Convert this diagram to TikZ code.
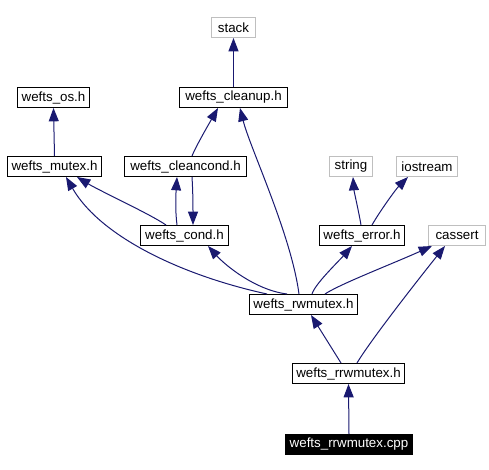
\documentclass[tikz,border=0pt]{standalone}
\usepackage{fontspec}
\setmainfont{Liberation Sans}
\usetikzlibrary{arrows.meta}
\usetikzlibrary{calc}
\definecolor{incnavy}{RGB}{25,25,112}
\definecolor{sysgray}{RGB}{191,191,191}
\tikzset{
  hfile/.style={draw=black, line width=0.75pt, anchor=north west, inner sep=0pt, minimum height=15pt, font=\fontsize{10}{12}\selectfont},
  sysfile/.style={hfile, draw=sysgray},
  srcfile/.style={hfile, fill=black, text=white},
  incl/.style={draw=incnavy, line width=0.75pt, -{Triangle[length=10pt,width=7.5pt]}}
}
\begin{document}
\begin{tikzpicture}[x=0.75pt,y=0.75pt,yscale=-1,xscale=1]
\useasboundingbox (0,0) rectangle (489,470);

% Node: system headers
\node[sysfile, minimum width=33pt] (stack) at (211,17) {stack};
\node[sysfile, minimum width=32.25pt] (string) at (329,156) {string};
\node[sysfile, minimum width=45.75pt] (iostream) at (396,156) {iostream};
\node[sysfile, minimum width=42.75pt] (cassert) at (428,225) {cassert};
% Node: project headers
\node[hfile, minimum width=81pt] (cleanup) at (179,87) {wefts\_cleanup.h};
\node[hfile, minimum width=54pt] (os) at (17,87) {wefts\_os.h};
\node[hfile, minimum width=70.5pt] (mutex) at (7,156) {wefts\_mutex.h};
\node[hfile, minimum width=91.5pt] (cleancond) at (124,156) {wefts\_cleancond.h};
\node[hfile, minimum width=66pt] (cond) at (140,225) {wefts\_cond.h};
\node[hfile, minimum width=63.75pt] (error) at (319,225) {wefts\_error.h};
\node[hfile, minimum width=81pt] (rwmutex) at (249,294) {wefts\_rwmutex.h};
\node[hfile, minimum width=84pt] (rrwmutex) at (292,363) {wefts\_rrwmutex.h};
% Node: source file
\node[srcfile, minimum width=95.25pt] (cpp) at (285,434) {wefts\_rrwmutex.cpp};

% Edges
\draw[incl] (cleanup.north) -- (stack.south);
\draw[incl] (mutex.north) -- (os.south);
\draw[incl] ($(cleancond.north west)+(68,0)$) .. controls +(4,-10) and +(-8,14) .. ($(cleanup.south west)+(39,0)$);
\draw[incl] ($(rwmutex.north west)+(50,0)$) .. controls +(-8,-60) and +(10,40) .. ($(cleanup.south west)+(61,0)$);
\draw[incl] ($(cond.north west)+(26,0)$) .. controls +(-16,-11) and +(23,14) .. ($(mutex.south west)+(70,0)$);
\draw[incl] ($(rwmutex.north west)+(18,0)$) .. controls +(-87,-19) and +(34,59) .. ($(mutex.south west)+(59,0)$);
\draw[incl] ($(cond.north west)+(37,0)$) .. controls +(-2,-15) and +(-1,15) .. ($(cleancond.south west)+(53,0)$);
\draw[incl] ($(cleancond.south west)+(68,0)$) .. controls +(1,15) and +(0,-15) .. ($(cond.north west)+(53,0)$);
\draw[incl] ($(rwmutex.north west)+(38,0)$) .. controls +(-32,-4) and +(17,19) .. ($(cond.south west)+(68,0)$);
\draw[incl] ($(rwmutex.north west)+(63,0)$) .. controls +(3,-10) and +(-14,16) .. ($(error.south west)+(33,0)$);
\draw[incl] ($(rwmutex.north west)+(76,0)$) .. controls +(15,-10) and +(-40,18) .. ($(cassert.south west)+(4,0)$);
\draw[incl] ($(error.north west)+(42,0)$) .. controls +(-2,-12) and +(1,14) .. ($(string.south west)+(24,0)$);
\draw[incl] ($(error.north west)+(53,0)$) .. controls +(8,-14) and +(-12,12) .. ($(iostream.south west)+(12,0)$);
\draw[incl] ($(rrwmutex.north west)+(49,0)$) -- ($(rwmutex.south west)+(62,0)$);
\draw[incl] ($(rrwmutex.north west)+(65,0)$) .. controls +(15,-25) and +(-20,25) .. ($(cassert.south west)+(17,0)$);
\draw[incl] (cpp.north) -- (rrwmutex.south);

\end{tikzpicture}
\end{document}
